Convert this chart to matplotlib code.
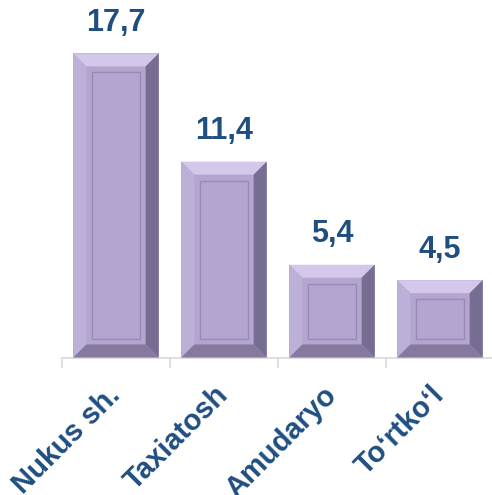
import matplotlib.pyplot as plt
from matplotlib.patches import Polygon, Rectangle

# chart data
regions = ["Nukus sh.", "Taxiatosh", "Amudaryo", "To\u2018rtko\u2018l"]
values = [17.7, 11.4, 5.4, 4.5]
value_labels = ["17,7", "11,4", "5,4", "4,5"]

text_color = "#1F4E80"
face = "#B3A5CF"
top_col = "#D3C8EA"
left_col = "#BCB0D8"
right_col = "#776D92"
bottom_col = "#85799F"
inner_col = "#9889B5"

plt.rcParams['font.family'] = ['Liberation Sans', 'DejaVu Sans']

fig = plt.figure(figsize=(4.92, 4.95), dpi=100)
ax = fig.add_axes([62 / 492, 1 - 357.5 / 495, 432 / 492, 357.5 / 495])
ax.set_xlim(-0.5, 3.5)
ax.set_ylim(0, 357.5 / 17.18)

bar_w = 0.79
bars = ax.bar(range(len(values)), values, width=bar_w, color=face,
              edgecolor="none", zorder=2)

fig.canvas.draw()
# pixel -> data conversion for the bevel size
px_x = (ax.get_xlim()[1] - ax.get_xlim()[0]) / ax.bbox.width
px_y = (ax.get_ylim()[1] - ax.get_ylim()[0]) / ax.bbox.height
bev = 13
inner = 19

for b in bars:
    x0, x1 = b.get_x(), b.get_x() + b.get_width()
    y0, y1 = 0, b.get_height()
    bx, by = bev * px_x, bev * px_y
    ax.add_patch(Polygon([(x0, y1), (x1, y1), (x1 - bx, y1 - by), (x0 + bx, y1 - by)],
                         closed=True, color=top_col, lw=0, zorder=3))
    ax.add_patch(Polygon([(x0, y0), (x0, y1), (x0 + bx, y1 - by), (x0 + bx, y0 + by)],
                         closed=True, color=left_col, lw=0, zorder=3))
    ax.add_patch(Polygon([(x1, y0), (x1, y1), (x1 - bx, y1 - by), (x1 - bx, y0 + by)],
                         closed=True, color=right_col, lw=0, zorder=3))
    ax.add_patch(Polygon([(x0, y0), (x1, y0), (x1 - bx, y0 + by), (x0 + bx, y0 + by)],
                         closed=True, color=bottom_col, lw=0, zorder=3))
    ix, iy = inner * px_x, inner * px_y
    ax.add_patch(Rectangle((x0 + ix, y0 + iy), (x1 - x0) - 2 * ix, (y1 - y0) - 2 * iy,
                           fill=False, edgecolor=inner_col, lw=1.0, zorder=4))

for i, (v, lab) in enumerate(zip(values, value_labels)):
    ax.annotate(lab, (i, v), xytext=(0, 11), textcoords="offset points",
                ha="center", va="bottom", fontsize=22, fontweight="bold",
                color=text_color)

for s in ["top", "right", "left"]:
    ax.spines[s].set_visible(False)
ax.spines["bottom"].set_color("#D9D9D9")
ax.spines["bottom"].set_linewidth(1.2)
ax.set_yticks([])

ax.set_xticks(range(len(regions)))
ax.set_xticklabels(regions, rotation=45, ha="right", va="center",
                   rotation_mode="anchor", fontsize=21, fontweight="bold",
                   color=text_color)
ax.tick_params(axis="x", which="major", length=0, pad=24)
ax.set_xticks([-0.5, 0.5, 1.5, 2.5], minor=True)
ax.tick_params(axis="x", which="minor", length=7, width=1.2, color="#D9D9D9")

fig.savefig("out.png", dpi=100)
